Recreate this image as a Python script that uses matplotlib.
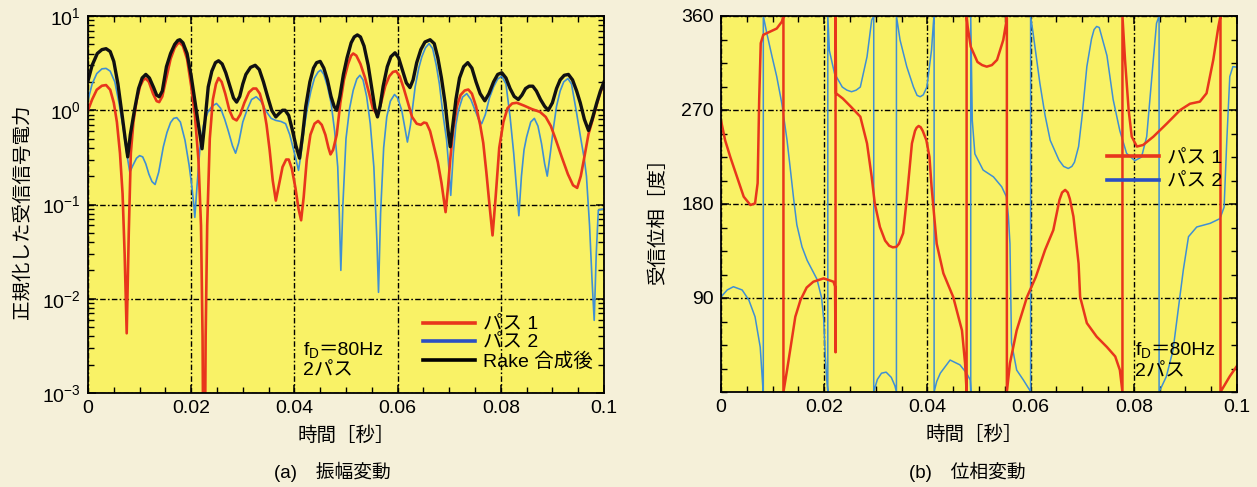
import matplotlib
matplotlib.use("Agg")
import matplotlib.pyplot as plt
from matplotlib.lines import Line2D
from matplotlib.ticker import LogLocator, MultipleLocator, FixedLocator, FixedFormatter, NullFormatter

plt.rcParams['font.family'] = ['Liberation Sans', 'Noto Sans CJK JP']
plt.rcParams['mathtext.fontset'] = 'custom'
plt.rcParams['mathtext.rm'] = 'Liberation Sans'
plt.rcParams['mathtext.it'] = 'Liberation Sans:italic'
plt.rcParams['mathtext.bf'] = 'Liberation Sans:bold'

# ---- (a) amplitude: normalised received power ----
t_amp_p1 = [0, .0008, .0017, .0027, .0035, .0043, .0050, .0056, .0062, .0067, .0071, .0075,
            .0079, .0083, .0088, .0094, .0101, .0107, .0112, .0118, .0126, .0133, .0138,
            .0144, .0152, .0160, .0168, .0174, .0178, .0184, .0192, .0200, .0207, .0214,
            .0219, .0222, .0225, .0228, .0231, .0236, .0242, .0248, .0253, .0259, .0266,
            .0274, .0281, .0288, .0295, .0303, .0312, .0320, .0326, .0333, .0340, .0346,
            .0352, .0358, .0364, .0370, .0377, .0384, .0389, .0395, .0402, .0408, .0413,
            .0418, .0424, .0431, .0439, .0446, .0453, .0460, .0466, .0470, .0475, .0482,
            .0489, .0496, .0504, .0510, .0514, .0520, .0528, .0537, .0545, .0552, .0561,
            .0568, .0576, .0584, .0591, .0597, .0604, .0612, .0620, .0628, .0637, .0645,
            .0651, .0656, .0663, .0670, .0678, .0685, .0693, .0698, .0702, .0708, .0715,
            .0722, .0730, .0737, .0744, .0752, .0760, .0766, .0772, .0778, .0784, .0790,
            .0797, .0805, .0813, .0822, .0831, .0845, .0860, .0876, .0887, .0897, .0907,
            .0918, .0930, .0940, .0948, .0955, .0962, .0970, .0977, .0986, .0993, .1000]
amp_p1 = [1.0, 1.3, 1.65, 1.82, 1.85, 1.65, 1.2, 0.75, 0.35, 0.13, 0.03, 0.0043,
          0.05, 0.35, 0.75, 1.25, 1.8, 2.1, 2.17, 2.0, 1.5, 1.25, 1.22,
          1.4, 2.2, 3.5, 4.6, 5.1, 5.2, 4.8, 3.5, 1.8, 0.9, 0.3,
          0.06, 0.004, 1e-5, 0.004, 0.06, 0.5, 1.3, 1.9, 2.2, 2.0, 1.5,
          1.0, 0.82, 0.78, 0.9, 1.2, 1.55, 1.7, 1.7, 1.5, 1.1, 0.7,
          0.38, 0.18, 0.11, 0.16, 0.25, 0.3, 0.3, 0.24, 0.15, 0.09, 0.068,
          0.12, 0.3, 0.55, 0.72, 0.77, 0.7, 0.55, 0.4, 0.34, 0.38, 0.55,
          1.2, 2.1, 3.1, 3.8, 4.0, 3.8, 3.1, 2.2, 1.5, 1.05, 0.885,
          1.2, 1.8, 2.3, 2.55, 2.6, 2.3, 1.7, 1.2, 0.85, 0.72, 0.7,
          0.74, 0.73, 0.6, 0.42, 0.28, 0.17, 0.083, 0.16, 0.3, 0.65, 1.1,
          1.45, 1.62, 1.66, 1.5, 1.1, 0.7, 0.45, 0.22, 0.1, 0.047, 0.12,
          0.4, 0.75, 1.05, 1.18, 1.2, 1.12, 1.03, 0.96, 0.85, 0.68, 0.48,
          0.32, 0.21, 0.16, 0.15, 0.2, 0.32, 0.56, 0.76, 1.15, 1.55, 1.9]

t_amp_p2 = [0, .0008, .0017, .0027, .0035, .0043, .0052, .0060, .0068, .0075, .0081, .0087,
            .0094, .0100, .0106, .0112, .0118, .0124, .0130, .0137, .0146, .0153, .0160,
            .0166, .0172, .0179, .0188, .0196, .0201, .0205, .0207, .0211, .0217, .0224,
            .0232, .0240, .0249, .0257, .0265, .0272, .0280, .0286, .0292, .0300, .0308,
            .0317, .0326, .0335, .0345, .0355, .0364, .0374, .0383, .0391, .0399, .0405,
            .0408, .0413, .0419, .0425, .0432, .0439, .0446, .0451, .0457, .0464, .0471,
            .0478, .0484, .0487, .0490, .0494, .0500, .0507, .0514, .0521, .0527, .0533,
            .0540, .0547, .0554, .0560, .0563, .0567, .0573, .0579, .0586, .0594, .0600,
            .0608, .0614, .0619, .0625, .0634, .0641, .0647, .0654, .0661, .0668, .0675,
            .0681, .0688, .0695, .0700, .0703, .0708, .0713, .0718, .0726, .0734, .0742,
            .0750, .0757, .0763, .0770, .0778, .0786, .0794, .0802, .0810, .0818, .0825,
            .0830, .0835, .0840, .0845, .0850, .0858, .0865, .0872, .0879, .0885, .0890,
            .0896, .0902, .0908, .0915, .0922, .0930, .0937, .0946, .0955, .0962, .0966,
            .0972, .0977, .0981, .0985, .0989, .1000]
amp_p2 = [1.28, 1.9, 2.45, 2.75, 2.78, 2.6, 2.0, 1.2, 0.66, 0.35, 0.22, 0.26,
          0.31, 0.33, 0.32, 0.27, 0.21, 0.175, 0.163, 0.22, 0.41, 0.58, 0.74,
          0.82, 0.835, 0.75, 0.48, 0.26, 0.16, 0.1, 0.073, 0.15, 0.4, 0.7,
          0.95, 1.1, 1.18, 1.05, 0.8, 0.6, 0.42, 0.35, 0.45, 0.75, 1.0,
          1.3, 1.39, 1.25, 0.98, 0.82, 0.78, 0.76, 0.72, 0.55, 0.37, 0.27,
          0.23, 0.35, 0.65, 1.05, 1.6, 2.2, 2.55, 2.67, 2.4, 1.8, 1.2,
          0.6, 0.25, 0.08, 0.02, 0.1, 0.5, 1.05, 1.63, 2.15, 2.35, 2.1,
          1.4, 0.72, 0.25, 0.04, 0.0117, 0.08, 0.4, 0.85, 1.25, 1.47, 1.35,
          1.0, 0.65, 0.46, 0.7, 1.77, 2.8, 3.7, 4.6, 5.1, 4.5, 3.0,
          1.9, 0.9, 0.48, 0.22, 0.125, 0.35, 0.7, 1.0, 1.38, 1.5, 1.3,
          1.0, 0.8, 0.72, 0.9, 1.35, 1.77, 2.15, 2.3, 1.9, 0.85, 0.35,
          0.16, 0.076, 0.2, 0.38, 0.52, 0.75, 0.82, 0.68, 0.44, 0.27, 0.2,
          0.35, 0.65, 1.1, 1.6, 2.0, 2.17, 1.9, 1.0, 0.5, 0.3, 0.2,
          0.06, 0.015, 0.0059, 0.03, 0.087, 0.09]

t_amp_rake = [0, .0008, .0018, .0027, .0035, .0043, .0050, .0058, .0066, .0072, .0077, .0082,
              .0090, .0098, .0105, .0112, .0119, .0127, .0133, .0138, .0144, .0152, .0160,
              .0168, .0174, .0178, .0184, .0192, .0200, .0207, .0214, .0221, .0227, .0233,
              .0240, .0247, .0253, .0260, .0267, .0275, .0282, .0288, .0294, .0300, .0306,
              .0315, .0324, .0332, .0340, .0348, .0356, .0364, .0370, .0377, .0382, .0389,
              .0396, .0403, .0410, .0416, .0422, .0430, .0437, .0443, .0450, .0457, .0464,
              .0471, .0477, .0482, .0488, .0495, .0502, .0510, .0516, .0522, .0528, .0535,
              .0543, .0550, .0556, .0561, .0566, .0572, .0580, .0587, .0595, .0602, .0610,
              .0617, .0624, .0630, .0637, .0645, .0653, .0663, .0671, .0678, .0685, .0692,
              .0698, .0702, .0707, .0713, .0720, .0728, .0736, .0744, .0752, .0760, .0769,
              .0777, .0786, .0794, .0802, .0810, .0818, .0826, .0834, .0841, .0848, .0855,
              .0862, .0869, .0877, .0885, .0892, .0900, .0908, .0915, .0923, .0931, .0939,
              .0947, .0954, .0962, .0970, .0977, .0986, .0993, .1000]
amp_rake = [2.05, 3.0, 4.0, 4.4, 4.5, 4.2, 3.3, 1.9, 0.9, 0.5, 0.32, 0.55,
            1.0, 1.7, 2.2, 2.4, 2.2, 1.75, 1.45, 1.39, 1.6, 2.9, 4.0,
            5.0, 5.5, 5.6, 5.2, 4.0, 2.3, 1.28, 0.7, 0.39, 0.8, 1.77,
            2.6, 3.2, 3.35, 3.1, 2.5, 1.8, 1.35, 1.22, 1.4, 1.9, 2.4,
            2.85, 3.0, 2.7, 2.0, 1.4, 1.0, 0.85, 0.92, 1.0, 1.0, 0.88,
            0.62, 0.42, 0.31, 0.55, 1.1, 2.0, 2.8, 3.2, 3.3, 2.8, 2.1,
            1.4, 1.1, 1.0, 1.4, 2.4, 3.6, 5.2, 6.0, 6.3, 6.0, 4.8,
            3.0, 1.7, 1.05, 0.85, 1.1, 1.8, 2.9, 3.7, 4.07, 3.6, 2.6,
            1.95, 1.74, 2.1, 3.2, 4.4, 5.3, 5.6, 5.1, 3.6, 2.2, 1.2,
            0.6, 0.41, 0.7, 1.3, 2.2, 2.9, 3.2, 2.8, 2.0, 1.5, 1.26,
            1.5, 2.0, 2.4, 2.5, 2.2, 1.7, 1.4, 1.3, 1.45, 1.7, 1.8,
            1.8, 1.6, 1.3, 1.1, 1.0, 1.2, 1.7, 2.1, 2.35, 2.4, 2.1,
            1.6, 1.2, 0.8, 0.61, 0.8, 1.2, 1.6, 2.0]

# ---- (b) received phase [deg], wrapped to 0..360 as in the picture ----
t_ph_p1 = [0, .0008, .0018, .0031, .0044, .0057, .0066, .0071, .0074, .0077, .0082, .0095,
           .0108, .0118, .0121, .0121, .0128, .0134, .0144, .0154, .0166, .0179, .0199,
           .0218, .0221, .0222, .0222, .0223, .0236, .0252, .0270, .0283, .0292, .0298,
           .0308, .0318, .0326, .0333, .0340, .0345, .0353, .0360, .0370, .0376, .0379,
           .0383, .0387, .0391, .0398, .0404, .0408, .0418, .0431, .0450, .0467, .0473,
           .0476, .0476, .0478, .0484, .0497, .0506, .0515, .0525, .0535, .0547, .0553,
           .0554, .0554, .0560, .0573, .0593, .0610, .0628, .0644, .0656, .0661, .0667,
           .0672, .0676, .0683, .0693, .0696, .0709, .0728, .0748, .0764, .0773, .0778,
           .0778, .0783, .0790, .0796, .0806, .0818, .0838, .0864, .0890, .0909, .0928,
           .0941, .0954, .0964, .0968, .0968, .0986, .1000]
ph_p1 = [260, 241, 225, 206, 187, 179, 180.6, 200, 280, 334, 342, 345,
         348, 354.6, 360, 0, 21, 40, 72, 88, 100, 105.6, 108.8,
         105.6, 101, 38, 360, 286, 281, 273, 263.6, 238, 206, 180.6,
         158, 145, 140, 138.5, 139, 142, 152, 185, 238, 250, 253,
         254.7, 253.5, 250, 241, 225, 197, 142, 113.6, 91, 59, 27.6,
         0, 360, 350, 330.6, 316, 313, 311.5, 313, 318, 337, 354.6,
         360, 0, 27.6, 59, 91, 110, 136, 155, 184, 191, 193.5,
         191, 185, 168, 123, 91, 66, 53, 43, 34, 21, 0,
         360, 318, 270, 244.5, 235, 236.5, 244.5, 257, 270, 276, 278,
         286, 318, 350, 360, 0, 15, 25]

t_ph_p2 = [0, .0012, .0024, .0041, .0054, .0066, .0076, .0081, .0082, .0082, .0089, .0099,
           .0108, .0118, .0128, .0134, .0141, .0147, .0157, .0167, .0186, .0195, .0199,
           .0202, .0205, .0207, .0207, .0210, .0220, .0235, .0244, .0253, .0262, .0270,
           .0283, .0292, .0296, .0296, .0303, .0311, .0320, .0330, .0337, .0340, .0340,
           .0347, .0360, .0373, .0380, .0386, .0392, .0399, .0408, .0412, .0413, .0413,
           .0418, .0425, .0444, .0463, .0476, .0483, .0484, .0484, .0487, .0492, .0508,
           .0528, .0544, .0553, .0557, .0560, .0563, .0573, .0586, .0598, .0600, .0600,
           .0605, .0618, .0628, .0638, .0655, .0664, .0673, .0680, .0685, .0693, .0700,
           .0709, .0718, .0723, .0728, .0733, .0738, .0748, .0760, .0773, .0786, .0802,
           .0815, .0825, .0835, .0844, .0849, .0849, .0863, .0876, .0886, .0896, .0906,
           .0922, .0948, .0967, .0975, .0980, .0986, .0992, .1000]
ph_p2 = [91, 97.7, 100.8, 97.7, 88, 72, 43, 5, 0, 360, 343, 321,
         302, 276, 241, 215, 184, 160, 139, 126, 108, 90, 70,
         35, 11.5, 0, 360, 327, 305, 292, 289, 287.5, 289, 292,
         321, 356, 360, 0, 12, 18, 19, 14, 6, 0, 360,
         337, 311.5, 292, 284, 282.7, 284.5, 292, 327.5, 356, 360, 0,
         10, 18, 30.6, 26, 18, 11.5, 0, 360, 260, 228, 212.5,
         206, 196.5, 187, 168, 142, 47, 21, 11.5, 2, 0, 360,
         343, 295.5, 265, 241, 222, 216, 214, 216, 220, 235, 265,
         311.5, 338, 347, 350, 349, 340, 322, 280, 250, 228.5, 221.5,
         225, 244.5, 302, 353, 360, 0, 14.7, 40, 78.5, 117, 148.7,
         158, 161.5, 166, 177, 238, 302, 311.5, 311]

x_ticks = [0, 0.02, 0.04, 0.06, 0.08, 0.1]
x_tick_labels = ['0', '0.02', '0.04', '0.06', '0.08', '0.1']
ph_ticks = [90, 180, 270, 360]

RED = '#e8361c'
BLUE = '#3f8fd4'
BLUE_LEG = '#2a4fc4'
YELLOW = '#f9f266'
CREAM = '#f5f0d9'
GRID_DASH = (0, (4, 1.6, 1.2, 1.6))

fig = plt.figure(figsize=(12.57, 4.87), dpi=100, facecolor=CREAM)
ax1 = fig.add_axes([88 / 1257, 1 - 393 / 487, 516 / 1257, 377 / 487])
ax2 = fig.add_axes([721 / 1257, 1 - 392 / 487, 516 / 1257, 376 / 487])


def style_axes(ax):
    ax.set_facecolor(YELLOW)
    for s in ax.spines.values():
        s.set_linewidth(1.3)
        s.set_color('black')
    ax.set_xlim(0, 0.1)
    ax.xaxis.set_major_locator(FixedLocator(x_ticks))
    ax.xaxis.set_major_formatter(FixedFormatter(x_tick_labels))
    ax.xaxis.set_minor_locator(MultipleLocator(0.005))
    ax.tick_params(which='both', direction='in', top=True, right=True, labelsize=14)
    ax.tick_params(which='major', length=6, width=1.1, pad=5)
    ax.tick_params(which='minor', length=4, width=1.0)
    ax.grid(True, which='major', color='black', linestyle=GRID_DASH, linewidth=1.0)


def fd_note(ax, x, y_base, y_second):
    # f_D then a full-width "＝80Hz" on the same baseline, then "2パス"
    t = ax.text(x, y_base, 'f$_\\mathrm{D}$', transform=ax.transAxes, fontsize=14, va='baseline')
    ax.annotate('＝80Hz', xy=(1, y_base), xycoords=(t, 'axes fraction'),
                xytext=(-1.0, 0), textcoords='offset points', fontsize=14, va='baseline')
    ax.text(x, y_second, '2パス', transform=ax.transAxes, fontsize=14, va='center')


# (a) amplitude
style_axes(ax1)
ax1.set_yscale('log')
ax1.set_ylim(1e-3, 1e1)
ax1.yaxis.set_major_locator(LogLocator(base=10, numticks=10))
ax1.yaxis.set_minor_locator(LogLocator(base=10, subs=range(2, 10), numticks=20))
ax1.yaxis.set_minor_formatter(NullFormatter())
ax1.plot(t_amp_p2, amp_p2, color=BLUE, lw=1.2)
ax1.plot(t_amp_p1, amp_p1, color=RED, lw=1.9)
ax1.plot(t_amp_rake, amp_rake, color='#111111', lw=2.4)
ax1.set_xlabel('時間［秒］', fontsize=14)
ax1.xaxis.set_label_coords(0.5, -0.088)
ax1.set_ylabel('正規化した受信信号電力', fontsize=14)
ax1.yaxis.set_label_coords(-0.108, 0.48)
fd_note(ax1, 0.417, 0.101, 0.058)
handles1 = [Line2D([], [], color=RED, lw=2.6), Line2D([], [], color=BLUE_LEG, lw=2.6),
            Line2D([], [], color='black', lw=2.6)]
ax1.legend(handles1, ['パス 1', 'パス 2', 'Rake 合成後'], loc='upper left',
           bbox_to_anchor=(0.649, 0.205), frameon=False, fontsize=14, borderpad=0,
           borderaxespad=0, handlelength=2.7, handletextpad=0.4, labelspacing=0.05)

# (b) phase
style_axes(ax2)
ax2.set_ylim(0, 360)
ax2.yaxis.set_major_locator(FixedLocator(ph_ticks))
ax2.yaxis.set_minor_locator(MultipleLocator(22.5))
ax2.plot(t_ph_p2, ph_p2, color=BLUE, lw=1.1)
ax2.plot(t_ph_p1, ph_p1, color=RED, lw=1.8)
ax2.set_xlabel('時間［秒］', fontsize=14)
ax2.xaxis.set_label_coords(0.49, -0.09)
ax2.set_ylabel('受信位相［度］', fontsize=14)
ax2.yaxis.set_label_coords(-0.105, 0.465)
fd_note(ax2, 0.802, 0.098, 0.053)
handles2 = [Line2D([], [], color=RED, lw=2.6), Line2D([], [], color=BLUE_LEG, lw=2.6)]
ax2.legend(handles2, ['パス 1', 'パス 2'], loc='upper left',
           bbox_to_anchor=(0.748, 0.645), frameon=False, fontsize=14, borderpad=0,
           borderaxespad=0, handlelength=2.7, handletextpad=0.4, labelspacing=0.3)

fig.text(332 / 1257, 1 - 472 / 487, '(a)　振幅変動', fontsize=13.5, ha='center', va='center')
fig.text(967 / 1257, 1 - 472 / 487, '(b)　位相変動', fontsize=13.5, ha='center', va='center')

fig.savefig('out.png', dpi=100, facecolor=CREAM)
